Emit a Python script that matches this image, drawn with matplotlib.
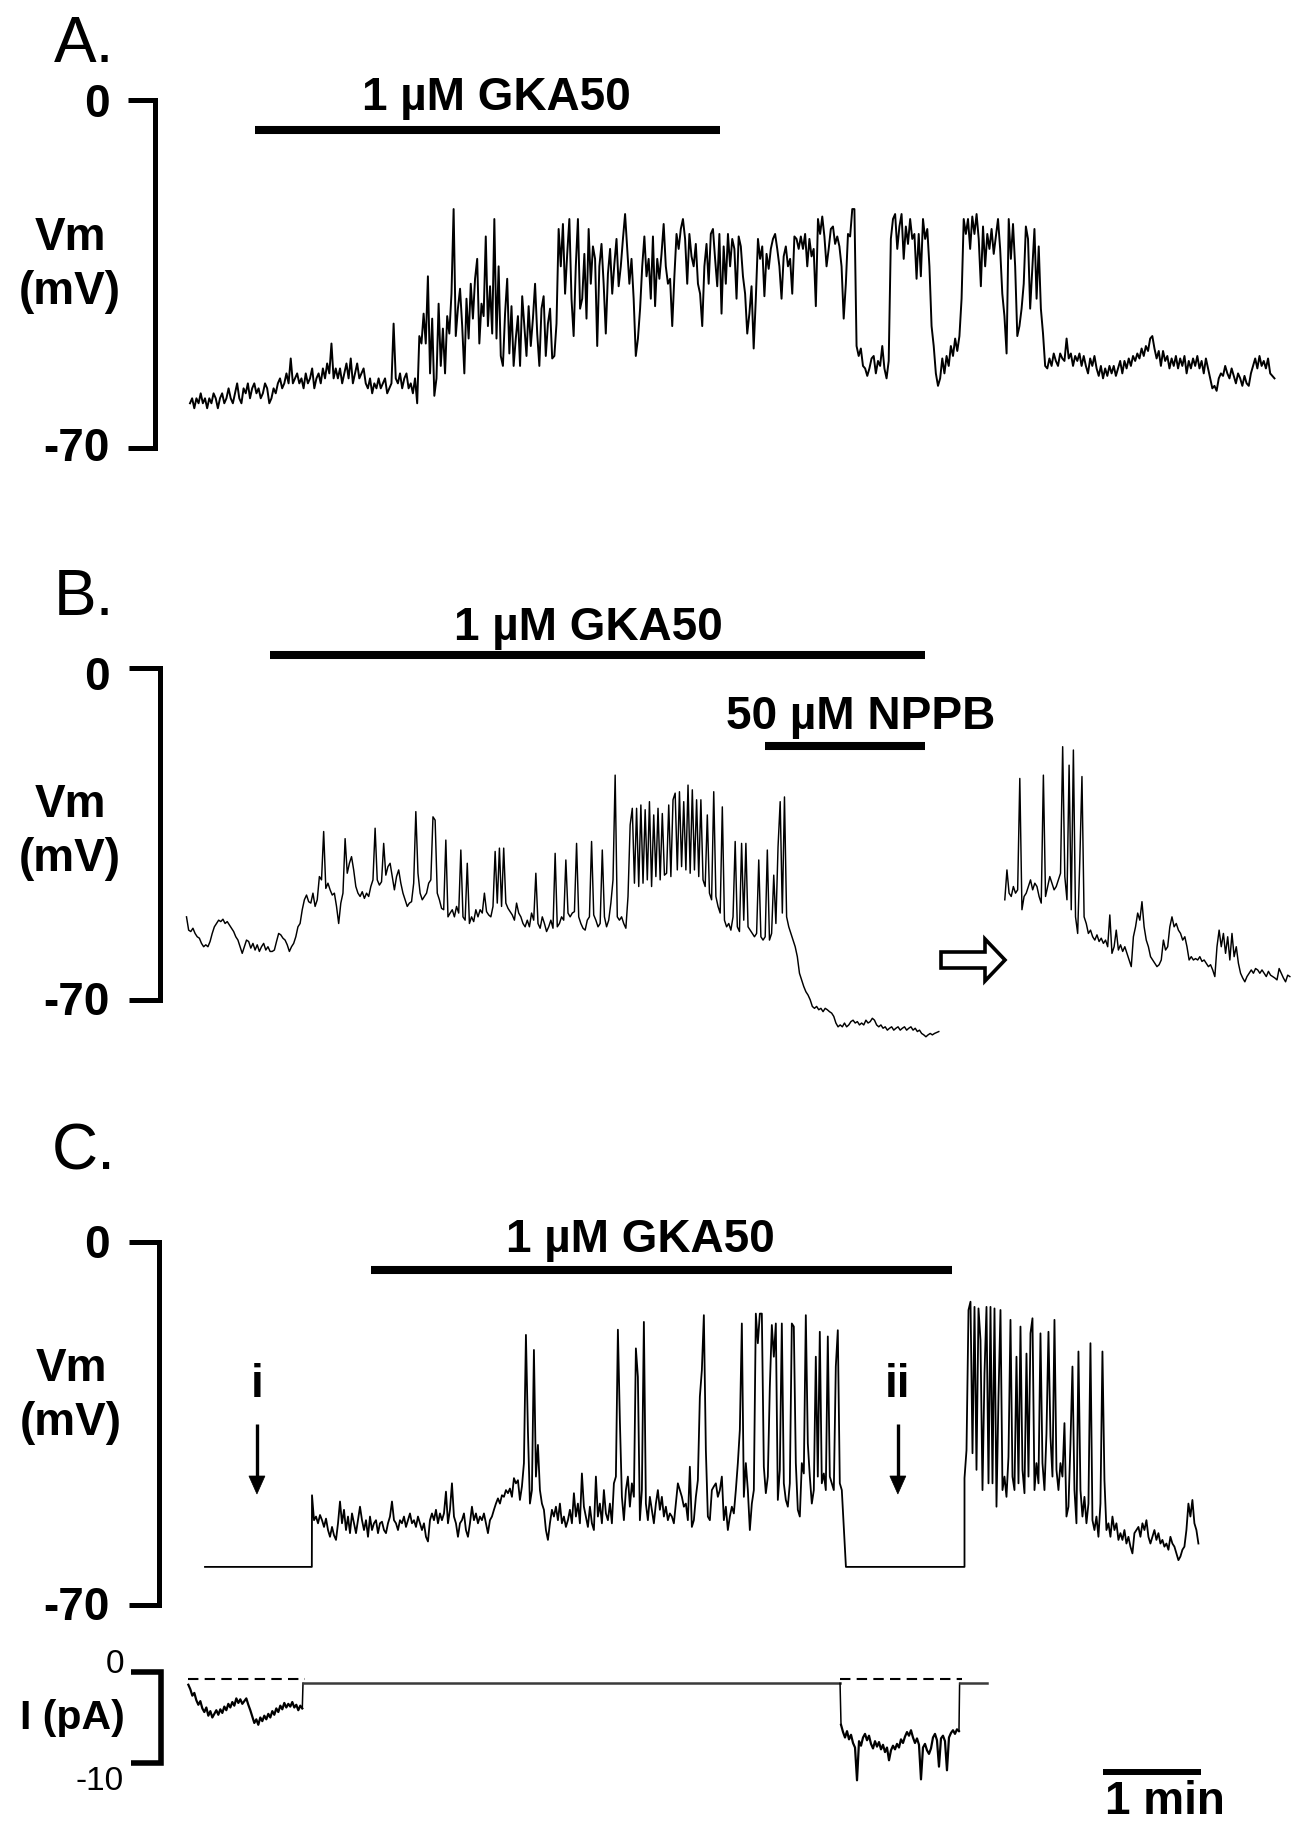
import numpy as np
import matplotlib
matplotlib.use("Agg")
import matplotlib.pyplot as plt
from matplotlib.transforms import blended_transform_factory
from matplotlib.patches import Polygon

plt.rcParams['font.family'] = ['Liberation Sans', 'DejaVu Sans']

W, H, DPI = 1295, 1825, 100

# ------------------------------------------------------------------ data
# Panel A : membrane potential (mV), one sample every DT_A minutes from t = 0
DT_A = 0.02187
vm_a = [
    -61, -60, -62, -60, -61, -59, -61, -60, -62, -60,
    -61, -59, -60, -62, -60, -59, -61, -60, -58, -60,
    -61, -59, -57, -60, -61, -58, -59, -57, -60, -58,
    -57, -59, -58, -60, -59, -57, -58, -61, -60, -58,
    -59, -57, -56, -58, -57, -55, -57, -52, -57, -56,
    -55, -57, -56, -58, -55, -57, -56, -54, -58, -56,
    -55, -57, -54, -56, -53, -55, -49, -56, -54, -56,
    -54, -57, -55, -53, -56, -52, -57, -55, -53, -56,
    -55, -54, -57, -58, -56, -59, -57, -58, -56, -58,
    -57, -56, -59, -58, -57, -45, -56, -57, -55, -58,
    -56, -55, -58, -57, -59, -56, -61,
    -47.5, -49, -43, -49, -35.5, -55, -44, -59.5, -56, -41,
    -53.5, -46, -55, -43.5, -47, -39, -22, -47.5, -42, -38,
    -45.5, -55, -40, -48, -37, -44, -36, -32, -49, -41,
    -43.5, -27.5, -45.5, -37.5, -47, -24, -48, -33.5, -51.5, -53.5,
    -43, -36, -51, -41.5, -53.5, -48, -43.5, -53.5, -39.5, -45.5,
    -51.5, -41.5, -49.5, -44, -37, -47, -53.5, -42, -39.5, -51.5,
    -45, -42, -52, -51.5, -45, -26, -33.5, -25, -39, -31,
    -24, -40, -47.5, -33.5, -24, -42, -40, -31, -44, -26,
    -37, -29.5, -32, -49.5, -33.5, -29, -37, -47, -35, -30,
    -39, -33, -28, -37.5, -33.5, -28, -23, -30, -37, -32,
    -40, -51.5, -48, -42, -33.5, -27.5, -35.5, -32, -40, -27.5,
    -41.5, -32, -36, -31, -25, -33.5, -37, -36, -45.5, -35.5,
    -27, -30, -26, -24, -28, -37, -27, -31.5, -33.5, -29,
    -37, -39, -45.5, -33.5, -29, -37, -27, -26, -32, -37.5,
    -27, -43, -29.5, -37, -27, -33.5, -28, -30, -40, -27.5,
    -29.5, -35.5, -39, -47, -43, -37.5, -50, -40, -28, -32,
    -29.5, -39.5, -31, -34, -30, -28, -27, -30, -33.5, -40,
    -31.5, -29.5, -33.5, -32, -39, -27.5, -28, -30, -27.5, -30,
    -27, -33.5, -28, -31.5, -30, -41.5, -24, -27, -23.5, -27.5,
    -33.5, -30, -26, -25.5, -29, -27.5, -29.5, -33.5, -44, -37,
    -27, -27.5, -22, -22, -49.5, -51.5, -50, -53.5, -54, -55.5,
    -54, -52, -51.5, -55, -52.5, -53.5, -49.5, -54, -56, -52.5,
    -28, -24, -23, -30, -25.5, -23, -32, -25.5, -29, -24,
    -28, -27, -36, -27, -35.5, -24, -28, -26, -33.5, -45.5,
    -49.5, -55, -57.5, -56, -52, -55, -51.5, -53.5, -49.5, -51.5,
    -48, -50.5, -47.5, -40, -24, -27, -24, -30, -23.5, -27,
    -23, -28, -37.5, -25.5, -33.5, -27, -30, -26, -31, -27.5,
    -24, -30, -39, -43.5, -51, -24, -32, -25, -33.5, -47.5,
    -45.5, -42, -37, -25.5, -28, -42, -34, -26, -40, -29.5,
    -42, -47, -53.5, -54, -52, -53.5, -51, -52.5, -53.5, -51,
    -52, -52.5, -48, -52, -51, -53.5, -51.5, -52.5, -51, -53.5,
    -51.5, -53.5, -55, -52, -53.5, -51.5, -54, -55.5, -53.5, -56,
    -54, -55.5, -53.5, -55, -53.5, -55.5, -54, -52.5, -55, -52.5,
    -54, -52, -53.5, -51.5, -52.5, -51, -52, -50, -51.5, -49.5,
    -50.5, -48, -47.5, -50, -52, -50.5, -53.5, -50.5, -52.5, -51.5,
    -54, -52, -53.5, -51.5, -54, -52, -53.5, -51.5, -55, -52.5,
    -54, -52, -53.5, -51.5, -54, -52.5, -55, -52, -54, -56,
    -58, -57.5, -58.5, -56, -55, -55.5, -53.5, -55, -56, -54,
    -55.5, -57, -55, -56, -57.5, -55.5, -57, -57.5, -55, -53.5,
    -52, -54, -51.5, -53.5, -52.5, -54, -52, -55, -55.5, -56,
]

# Panel B : first record (t = 0 ...) and the later record shown after the arrow
DT_B = 0.02187
vm_b1 = [
    -52.5, -55.3, -55.6, -54.9, -56, -56.7, -57, -58.1, -58.8, -58.4,
    -58.8, -57.7, -56, -54.6, -53.9, -53.2, -53.5, -53, -53.9, -53.5,
    -54.2, -54.9, -55.6, -56.7, -57.4, -58.8, -60.2, -58.8, -57.4, -57.7,
    -59.1, -58.1, -59.5, -58.4, -59.8, -58.8, -58.1, -59.5, -58.8, -59.8,
    -59.8, -59.5, -57.7, -56, -56.3, -57, -57.4, -58.4, -59.8, -58.8,
    -58.1, -56.7, -54.6, -53.9, -51, -48.9, -47.9, -49.3, -49.6, -47.5,
    -50.3, -48.9, -44, -44.7, -34.5, -46.5, -45.4, -46.8, -47.9, -47.5,
    -50.3, -53.9, -49.6, -47.5, -36, -43.3, -41.2, -39.8, -42.6, -46.1,
    -47.5, -48.2, -47.2, -48.6, -47.5, -48.2, -46.1, -44.7, -33.8, -44.7,
    -45.8, -45.1, -37, -43.7, -41.9, -41.2, -44, -46.8, -44, -42.6,
    -45.4, -47.5, -48.9, -50.3, -49.6, -49.3, -45.4, -30.3, -43.3, -47.5,
    -48.9, -48.2, -47.5, -45.4, -44.7, -31.4, -32.1, -47.5, -48.9, -50.7,
    -51, -36.3, -52.5, -51.7, -51, -52.5, -50.3, -51.7, -38.4, -52.5,
    -53.2, -41.2, -53.9, -52.5, -53.5, -51, -52.5, -51, -51.7, -47.5,
    -51.4, -52.1, -52.5, -50.3, -38.7, -49.6, -38, -50.3, -38, -49.6,
    -50.7, -51.4, -52.1, -53.2, -49.6, -51.7, -52.5, -53.9, -54.6, -53.2,
    -54.6, -51.7, -53.2, -43.3, -53.9, -54.9, -52.5, -53.9, -55.6, -54.6,
    -53.2, -54.9, -39.1, -54.6, -53.9, -52.5, -53.2, -40.5, -51.7, -52.5,
    -51.7, -51.4, -37, -52.5, -53.9, -54.9, -55.3, -53.2, -52.5, -36.6,
    -52.1, -53.2, -54.6, -53.9, -38.4, -52.5, -54.6, -53.2, -49.6, -44.7,
    -22.6, -52.5, -53.2, -52.5, -53.9, -54.9, -48.2, -33.1, -29.6, -45.4,
    -29.6, -46.1, -28.9, -45.4, -29.9, -44.7, -28.2, -46.1, -31, -44,
    -29.6, -44.7, -30.7, -43.7, -43.3, -28.9, -44, -27.8, -26.4, -42.6,
    -26.1, -41.9, -28.2, -42.6, -24.7, -43.3, -25.7, -42.6, -27.8, -44,
    -27.8, -44.7, -46.1, -31, -47.5, -48.9, -26.1, -48.2, -50.3, -51.7,
    -29.3, -53.2, -54.6, -53.9, -55.3, -52.5, -36.6, -54.6, -55.6,
    -37, -53.2, -37, -54.6, -55.3, -56, -56.7, -56, -40.5, -56.7,
    -57.4, -56.7, -38.4, -57.4, -56, -43.7, -53.9, -37.7, -28.2, -51.7,
    -27.2, -52.5, -54.6, -56, -57.4, -58.8, -60.9, -64.4, -65.8, -67.2,
    -68.3, -69, -70, -71.4, -71.8, -71.4, -72.1, -71.8, -72.5, -71.8,
    -72.1, -72.5, -72.8, -73.5, -74.9, -75.7, -75.3, -75.7, -74.9, -75.7,
    -75.3, -74.6, -74.3, -74.9, -74.6, -75.3, -74.9, -75.3, -74.3, -74.9,
    -74.6, -73.9, -74.3, -75.3, -75.7, -75.3, -76, -75.7, -76.4, -76,
    -75.7, -76.4, -76, -75.7, -76.4, -76, -75.7, -76.4, -76, -75.7,
    -76.4, -76, -76.7, -76.4, -77.1, -77.4, -77.8, -77.4, -77.1, -77.4,
    -77.1, -76.9, -76.7,
]
T0_B2 = 8.35
vm_b2 = [
    -48.9, -42.6, -47.5, -48.2, -46.1, -47.5, -46.8, -23.3, -51, -48.2,
    -47.5, -46.1, -44.7, -46.8, -45.4, -46.1, -48.2, -49.6, -22.6, -48.2,
    -46.1, -44, -45.4, -46.8, -46.1, -44.7, -43.3, -16.6, -44, -48.9,
    -20.5, -51, -17.3, -52.5, -56, -40.5, -22.9, -52.5, -53.9, -56,
    -55.3, -56.7, -57.4, -56.3, -57.7, -57, -58.1, -57.4, -58.8, -52.1,
    -60.2, -58.8, -55.3, -59.5, -58.4, -59.8, -58.8, -60.2, -61.6, -63,
    -56.7, -54.6, -51.7, -53.2, -49.3, -54.6, -57.4, -58.8, -60.9, -61.6,
    -62.3, -63, -62.6, -61.6, -57.4, -59.5, -58.8, -54.6, -52.5, -54.6,
    -53.9, -55.3, -56, -57.4, -56.7, -58.8, -61.6, -60.9, -61.6, -61.3,
    -61.6, -60.9, -61.9, -61.6, -62.3, -63, -62.6, -63.7, -65.1, -58.8,
    -55.3, -58.8, -56, -60.2, -56.7, -61.6, -56, -60.9, -58.8, -62.3,
    -64.4, -65.4, -66.2, -65.1, -64.4, -63.7, -64.4, -63.4, -63.7, -64.4,
    -63.7, -64.4, -65.1, -64, -64.8, -65.1, -65.4, -65.8, -63.4, -64.4,
    -65.4, -66.2, -64.8, -65.1,
]

# Panel C : Vm, with two periods of current injection (i, ii) holding Vm flat
DT_C = 0.0204
VM_C_CLAMP = -62.6
C_CLAMP1 = (0.0, 1.09)
C_CLAMP2 = (6.54, 7.75)
T0_C1 = 1.092
vm_c1 = [
    -48.8, -53.6, -52.9, -54.2, -52.6, -53.6, -54.9, -53.3, -55.5, -56.8,
    -54.9, -56.5, -57.4, -54.2, -50, -54.2, -51.6, -55.5, -52.9, -56.1,
    -52.3, -54.2, -56.1, -53.6, -51, -53.6, -55.5, -53.6, -56.8, -52.9,
    -55.5, -54.2, -53.6, -56.1, -54.2, -53.9, -55.5, -56.1, -54.2, -52.9,
    -50, -53.6, -54.2, -55.5, -53.6, -54.2, -52.9, -54.9, -53.6, -52.3,
    -54.2, -53.6, -54.9, -52.9, -54.2, -55.5, -54.2, -56.8, -57.7, -53.6,
    -52.3, -53.6, -51.6, -54.2, -52.3, -53.6, -52.3, -48.1, -54.2, -51.6,
    -46.5, -52.9, -54.2, -56.8, -54.2, -53.6, -52.3, -55.5, -56.8, -54.2,
    -51, -53.6, -52.3, -54.2, -52.9, -53.6, -52.3, -54.2, -56.1, -53.6,
    -52.9, -51.6, -50.4, -49.4, -50.4, -48.8, -49.1, -47.8, -48.4, -47.5,
    -49.1, -45.5, -46.5, -45.9, -49.7, -47.1, -42.6, -17.9, -36.5, -50.4,
    -47.8, -20.8, -45.2, -39.1, -47.8, -50.4, -51.6, -55.5, -57.4, -54.2,
    -51.6, -52.9, -51, -53.6, -50.4, -54.2, -52.9, -54.9, -53.6, -51.6,
    -54.2, -48.4, -52.9, -50.4, -54.2, -44.6, -51, -52.9, -54.9, -51,
    -54.2, -55.5, -45.2, -52.9, -50.4, -54.2, -47.8, -52.3, -53.6, -50.4,
    -54.2, -46.5, -45.2, -16.9, -34.6, -49.1, -53.6, -47.8, -45.2, -51,
    -46.5, -49.1, -20.5, -26, -53.6, -47.8, -15.4, -50.4, -53.6, -49.1,
    -51.6, -54.2, -50.4, -47.8, -51.6, -49.1, -52.9, -51, -53.6, -52.3,
    -52.9, -54.2, -50.4, -46.5, -47.8, -49.1, -51, -50.4, -53.6, -43.3,
    -54.9, -53.6, -49.1, -45.9, -29.8, -24.7, -14.1, -40.1, -52.9, -53.6,
    -47.8, -47.1, -46.5, -49.1, -47.8, -45.2, -53.6, -51, -55.5, -52.9,
    -51, -52.3, -47.8, -42.6, -36.2, -15.7, -49.1, -42.6, -47.8, -55.5,
    -50.4, -47.8, -13.8, -19.5, -13.8, -13.8, -43.3, -48.4, -45.2, -27.9,
    -16, -22.1, -15.7, -49.7, -43.9, -15.7, -46.5, -49.7, -51, -46.5,
    -15.7, -16.3, -42.6, -51.6, -52.9, -42.6, -44.6, -14.1, -38.8, -45.2,
    -50.4, -47.8, -22.1, -45.2, -17.3, -46.5, -44.6, -47.8, -18.2, -45.2,
    -46.5, -47.8, -24, -17, -46.5, -47.8,
]
T0_C2 = 7.75
vm_c2 = [
    -45.5, -40.1, -13.1, -11.5, -40.7, -12.5, -43.9, -12.8, -18.9, -47.8,
    -25.3, -12.5, -46.5, -12.5, -46.5, -12.8, -51, -29.8, -13.1, -47.8,
    -45.2, -49.1, -41.4, -15, -45.2, -47.8, -22.1, -46.5, -16.3, -43.9,
    -48.4, -21.5, -45.2, -17.6, -14.7, -47.8, -42.6, -46.5, -17.6, -42.6,
    -47.8, -36.9, -17.3, -37.5, -45.2, -15, -43.9, -47.8, -42.6, -45.2,
    -34.9, -52.9, -51, -38.8, -24, -47.8, -54.2, -21.1, -47.8, -52.9,
    -49.1, -54.2, -50.4, -19.5, -53.6, -55.5, -52.9, -56.8, -50.4, -21.1,
    -45.9, -55.5, -54.2, -56.8, -52.9, -55.5, -54.2, -57.4, -56.1, -57.4,
    -55.5, -58.1, -56.8, -58.7, -60, -56.1, -55.5, -54.9, -56.8, -54.2,
    -55.5, -53.6, -56.8, -58.1, -56.8, -55.5, -57.4, -56.1, -58.1, -57.4,
    -58.7, -58.1, -59.3, -56.8, -58.1, -58.7, -60, -61.3, -60.6, -59.3,
    -58.7, -55.5, -50.4, -52.9, -49.7, -54.2, -55.5, -58.1,
]

# Panel C : injected current (pA)
DT_I = 0.0204
I_HOLD = -1.24
I_REF = -0.77           # dashed reference level
T0_I1 = -0.17
i_c1 = [
    -1.4, -1.9, -2.6, -2.3, -3.1, -3.6, -3.2, -4.0, -4.4, -3.9,
    -4.8, -4.3, -5.0, -4.6, -4.2, -4.7, -4.1, -4.5, -3.8, -4.2,
    -3.5, -3.9, -3.3, -3.7, -2.9, -3.4, -3.0, -3.5, -3.2, -2.9,
    -3.6, -4.2, -4.9, -5.6, -5.2, -5.8, -5.0, -5.4, -4.8, -5.2,
    -4.6, -5.0, -4.3, -4.7, -4.0, -4.4, -3.7, -4.1, -3.4, -3.9,
    -3.5, -3.8, -3.3, -3.9, -3.6, -4.2, -3.7, -4.0,
]
T_STEP1 = 1.0
T0_I2 = 6.49
i_c2 = [
    -5.8, -6.6, -7.2, -6.5, -7.4, -6.9, -7.8, -8.3, -11.9, -7.6,
    -8.1, -7.2, -6.8, -7.5, -7.0, -7.9, -8.4, -7.6, -8.2, -7.7,
    -8.5, -8.0, -8.8, -8.3, -9.7, -8.6, -8.1, -8.5, -7.9, -8.3,
    -7.4, -7.8, -7.1, -6.6, -7.0, -6.4, -7.2, -7.8, -7.3, -8.0,
    -11.8, -8.3, -7.9, -8.6, -9.0, -8.4, -7.2, -6.8, -7.5, -10.4,
    -7.3, -7.0, -7.6, -10.8, -7.2, -6.7, -6.4, -6.8, -6.3, -6.5,
]
T_STEP2 = 7.70
T_I_END = 7.98

vm_ticks = [0, -70]
i_ticks = [0, -10]

# drug applications (label, start min, end min)
drugs_a = [("1 \u00b5M GKA50", 0.66, 5.41)]
drugs_b = [("1 \u00b5M GKA50", 0.85, 7.54), ("50 \u00b5M NPPB", 5.90, 7.54)]
drugs_c = [("1 \u00b5M GKA50", 1.69, 7.62)]
marks_c = [("i", 0.53), ("ii", 7.07)]
scale_min = 1.0

# ------------------------------------------------------------------ figure
fig = plt.figure(figsize=(W / DPI, H / DPI), dpi=DPI)
fig.patch.set_facecolor("white")
pix = fig.add_axes([0, 0, 1, 1])
pix.set_xlim(0, W)
pix.set_ylim(H, 0)
pix.axis("off")


def panel(x0, y0, ppm, ppu):
    ax = fig.add_axes([0, 0, 1, 1], facecolor="none")
    ax.set_xlim(-x0 / ppm, (W - x0) / ppm)
    ax.set_ylim(-(H - y0) / ppu, y0 / ppu)
    ax.axis("off")
    return ax


axA = panel(190, 99.5, 98, 4.98)
axB = panel(186.5, 668, 98, 4.74)
axC = panel(205, 1242, 98, 5.19)
axI = panel(205, 1672, 98, 9.1)

BOLD = dict(fontsize=33, fontweight="bold", color="black")
K = "black"


def sampled(t0, dt, vals):
    return t0 + dt * np.arange(len(vals)), np.asarray(vals, dtype=float)


def bracket(ax, x_axis, x_tick, ticks, lw=3.6):
    tr = blended_transform_factory(pix.transData, ax.transData)
    ax.plot([x_tick, x_axis, x_axis, x_tick], [ticks[0], ticks[0], ticks[1], ticks[1]],
            transform=tr, color=K, lw=lw, solid_joinstyle="miter",
            solid_capstyle="butt", clip_on=False)


def tick_labels(ax, ticks, x_right, dys, **kw):
    for v, dy in zip(ticks, dys):
        ypx = pix.transData.inverted().transform(ax.transData.transform((0, v)))[1]
        pix.text(x_right, ypx + dy, f"{v:g}", ha="right", va="baseline", **kw)


def drug_bars(ax, drugs, ys, label_pos):
    tr = blended_transform_factory(ax.transData, pix.transData)
    for (lab, t1, t2), y, (lx, ly) in zip(drugs, ys, label_pos):
        ax.plot([t1, t2], [y, y], transform=tr, color=K, lw=5.8,
                solid_capstyle="butt", clip_on=False)
        pix.text(lx, ly, lab, ha="center", va="baseline", **BOLD)


# ---------------- Panel A
t, v = sampled(0.0, DT_A, vm_a)
axA.plot(t, v, color=K, lw=1.4)
bracket(axA, 155, 128, vm_ticks)
tick_labels(axA, vm_ticks, 110, [17, 13], **BOLD)
pix.text(70, 250, "Vm", ha="center", va="baseline", **BOLD)
pix.text(70, 304, "(mV)", ha="center", va="baseline", **BOLD)
pix.text(84, 62, "A.", ha="center", va="baseline", fontsize=46, color=K)
drug_bars(axA, drugs_a, [130], [(496, 110)])

# ---------------- Panel B
t, v = sampled(0.0, DT_B, vm_b1)
axB.plot(t, v, color=K, lw=1.05)
t, v = sampled(T0_B2, DT_B, vm_b2)
axB.plot(t, v, color=K, lw=1.05)
bracket(axB, 160, 129, vm_ticks)
tick_labels(axB, vm_ticks, 110, [22, 15], **BOLD)
pix.text(70, 817, "Vm", ha="center", va="baseline", **BOLD)
pix.text(70, 871, "(mV)", ha="center", va="baseline", **BOLD)
pix.text(84, 615, "B.", ha="center", va="baseline", fontsize=46, color=K)
drug_bars(axB, drugs_b, [655, 746], [(588, 640), (861, 729)])
arrow_pts = [(941, 952), (985, 952), (985, 939), (1005, 960),
             (985, 981), (985, 968), (941, 968)]
pix.add_patch(Polygon(arrow_pts, closed=True, facecolor="white",
                      edgecolor=K, lw=2.6, joinstyle="miter"))

# ---------------- Panel C (Vm)
tc1, vc1 = sampled(T0_C1, DT_C, vm_c1)
tc2, vc2 = sampled(T0_C2, DT_C, vm_c2)
t_all = np.concatenate([[C_CLAMP1[0], C_CLAMP1[1]], tc1,
                        [C_CLAMP2[0], C_CLAMP2[1]], tc2])
v_all = np.concatenate([[VM_C_CLAMP, VM_C_CLAMP], vc1,
                        [VM_C_CLAMP, VM_C_CLAMP], vc2])
axC.plot(t_all, v_all, color=K, lw=1.3)
bracket(axC, 159, 129, vm_ticks)
tick_labels(axC, vm_ticks, 110, [16, 15], **BOLD)
pix.text(71, 1381, "Vm", ha="center", va="baseline", **BOLD)
pix.text(71, 1435, "(mV)", ha="center", va="baseline", **BOLD)
pix.text(84, 1170, "C.", ha="center", va="baseline", fontsize=46, color=K)
drug_bars(axC, drugs_c, [1270], [(640, 1252)])

trC = blended_transform_factory(axC.transData, pix.transData)
for lab, tm in marks_c:
    axC.text(tm, 1397, lab, transform=trC, ha="center", va="baseline", **BOLD)
    axC.plot([tm, tm], [1424, 1478], transform=trC, color=K, lw=2.4,
             solid_capstyle="butt", clip_on=False)
    xp = pix.transData.inverted().transform(axC.transData.transform((tm, 0)))[0]
    pix.add_patch(Polygon([(xp - 8, 1476), (xp + 8, 1476), (xp, 1494)],
                          closed=True, facecolor=K, edgecolor=K, lw=0.5))

# ---------------- Panel C (current)
ti1, ii1 = sampled(T0_I1, DT_I, i_c1)
ti2, ii2 = sampled(T0_I2, DT_I, i_c2)
axI.plot(ti1, ii1, color=K, lw=1.6)
axI.plot(ti2, ii2, color=K, lw=1.6)
axI.plot([ti1[-1], T_STEP1], [ii1[-1], I_HOLD], color=K, lw=1.1)
axI.plot([T_STEP1, T0_I2 - 0.01], [I_HOLD, I_HOLD], color="#3a3a3a", lw=1.8)
axI.plot([T0_I2 - 0.01, ti2[0]], [I_HOLD, ii2[0]], color=K, lw=1.1)
axI.plot([ti2[-1], T_STEP2], [ii2[-1], I_HOLD], color=K, lw=1.1)
axI.plot([T_STEP2, T_I_END], [I_HOLD, I_HOLD], color="#3a3a3a", lw=1.8)
axI.plot([T0_I1, T_STEP1 + 0.02], [I_REF, I_REF], color=K, lw=1.5, dashes=(5, 3))
axI.plot([T0_I2 - 0.01, T_STEP2 + 0.02], [I_REF, I_REF], color=K, lw=1.5, dashes=(5, 3))
bracket(axI, 161, 131, i_ticks, lw=4.0)
tick_labels(axI, i_ticks, 124, [1, 27], fontsize=24, color=K)
pix.text(72, 1729, "I (pA)", ha="center", va="baseline", fontsize=29.5,
         fontweight="bold", color=K)

# time scale bar
trI = blended_transform_factory(axC.transData, pix.transData)
axC.plot([9.16, 9.16 + scale_min], [1772, 1772], transform=trI, color=K, lw=4.3,
         solid_capstyle="butt", clip_on=False)
pix.text(1165, 1814, "1 min", ha="center", va="baseline", **BOLD)

fig.savefig("out.png", dpi=DPI, facecolor="white")
